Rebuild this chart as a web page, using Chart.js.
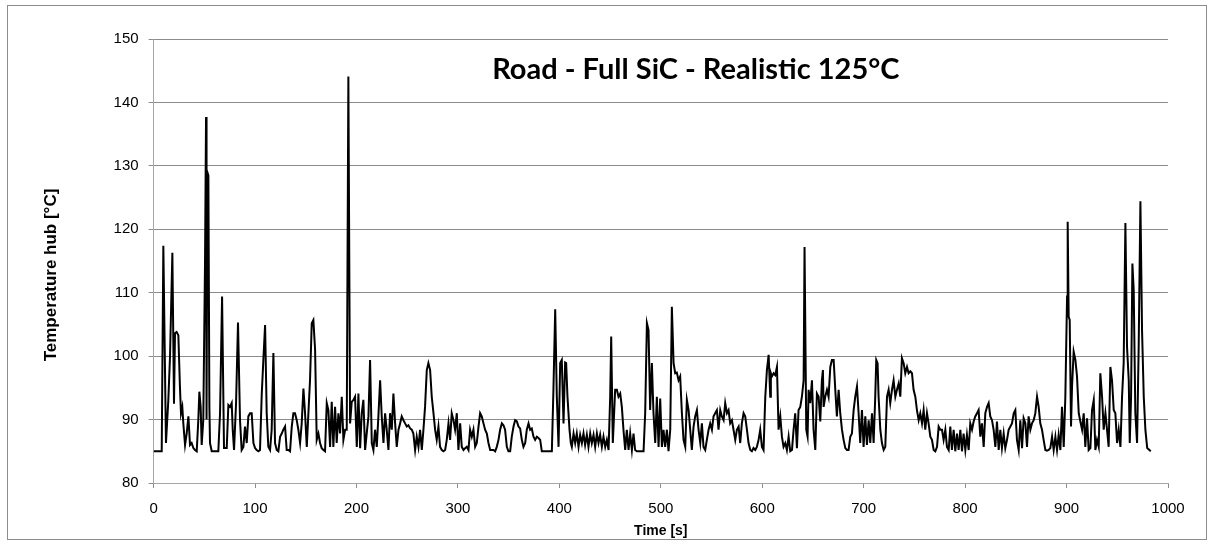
<!DOCTYPE html>
<html>
<head>
<meta charset="utf-8">
<title>Road - Full SiC - Realistic 125°C</title>
<script src="https://cdn.jsdelivr.net/npm/chart.js@4/dist/chart.umd.min.js"></script>
<style>
  html, body { margin: 0; padding: 0; background: #fff; }
  #wrap { position: relative; width: 1213px; height: 545px; }
</style>
</head>
<body>
<div id="wrap"><canvas id="chart" width="1213" height="545"></canvas></div>
<script>
const chartTitle = 'Road - Full SiC - Realistic 125°C';
const xTitle = 'Time [s]';
const yTitle = 'Temperature hub [°C]';

const xTicks = [0, 100, 200, 300, 400, 500, 600, 700, 800, 900, 1000];
const yTicks = [80, 90, 100, 110, 120, 130, 140, 150];

// time [s]
const times = [
  0, 8, 9.6, 12.2, 14.5, 16.2, 18.5, 20.1, 21.1, 22.7, 24.4, 26, 27, 28.3, 29.3, 31, 32.6, 34.3, 35.9, 37.5,
  39.2, 40.8, 42.5, 44.1, 45.1, 46.4, 47.4, 49, 50.7, 51.7, 52.2, 53, 54, 55, 55.6, 57.3, 63.8, 65.5, 67.5, 69.4,
  72.1, 73.7, 75.3, 77, 78, 79.3, 81.3, 83.2, 85.2, 86.8, 88.5, 90.1, 91.8, 93.4, 95.1, 96.7, 98.4, 100, 101.6, 103.3,
  104.9, 106.6, 108.2, 109.9, 111.5, 113.1, 114.8, 116.4, 118.1, 119.7, 121.4, 123, 124.7, 126.3, 127.9, 129.6, 131.2, 132.9, 134.5, 136.2,
  137.8, 139.4, 141.1, 142.7, 144.4, 146, 147.7, 149.3, 151, 152.6, 154.2, 155.9, 157.5, 159.2, 160.8, 162.5, 164.1, 165.7, 167.4, 169,
  170.7, 172.3, 174, 175.6, 177.2, 178.9, 180.5, 182.2, 183.8, 185.5, 187.1, 188.8, 190.4, 192, 193.7, 195.3, 197, 198.6, 200.3, 201.9,
  203.6, 205.2, 206.8, 208.5, 210.1, 211.8, 213.4, 215.1, 216.7, 218.3, 220, 221.6, 223.3, 224.9, 226.6, 228.2, 229.8, 231.5, 233.1, 234.8,
  236.4, 238.1, 239.7, 241.4, 243, 244.6, 246.3, 247.9, 249.6, 251.2, 252.9, 254.5, 256.1, 257.8, 259.4, 261.1, 262.7, 264.4, 266, 267.6,
  269.3, 270.9, 272.6, 274.2, 275.9, 277.5, 279.1, 280.8, 282.4, 284.1, 285.7, 287.4, 289, 290.7, 292.3, 293.9, 295.6, 297.2, 298.9, 300.5,
  302.2, 303.8, 305.5, 307.1, 308.7, 310.4, 312, 313.7, 315.3, 317, 318.6, 320.3, 321.9, 323.5, 325.2, 326.8, 328.5, 330.1, 331.8, 333.4,
  335, 336.7, 338.3, 340, 341.6, 343.3, 344.9, 346.5, 348.2, 349.8, 351.5, 353.1, 354.8, 356.4, 358.1, 359.7, 361.3, 363, 364.6, 366.3,
  367.9, 369.6, 371.2, 372.8, 374.5, 376.1, 377.8, 379.4, 381.1, 382.7, 390.9, 392.6, 394.2, 395.9, 397.5, 399.2, 400.8, 402.4, 404.1, 405.7,
  406.7, 408, 410, 411.3, 412.3, 414, 415.6, 417.2, 418.9, 420.5, 422.2, 423.8, 425.4, 427.1, 428.7, 430.4, 432, 433.7, 435.3, 437,
  438.6, 440.2, 441.9, 443.5, 445.2, 446.8, 448.5, 450.1, 451.1, 452.7, 455, 456.7, 458.3, 460, 461.6, 463.2, 464.9, 466.5, 468.2, 469.8,
  471.5, 473.1, 474.7, 476.4, 483, 484.6, 486.3, 487.9, 489.5, 491.2, 492.8, 494.5, 496.1, 497.8, 499.4, 501.1, 502.7, 504.3, 506, 507.6,
  509.3, 510.9, 512.6, 514.2, 515.8, 517.5, 519.1, 520.8, 522.4, 524.1, 525.7, 527.4, 529, 530.6, 532.3, 533.9, 535.6, 537.2, 538.9, 540.5,
  542.1, 543.8, 545.4, 547.1, 548.7, 550.4, 552, 553.6, 555.3, 556.9, 558.6, 560.2, 561.9, 563.5, 565.2, 566.8, 568.4, 570.1, 571.7, 573.4,
  575, 576.7, 578.3, 579.9, 581.6, 583.2, 584.9, 586.5, 588.2, 589.8, 591.4, 593.1, 594.7, 596.4, 598, 599.7, 601.3, 603, 604.6, 606.3,
  607.9, 608.5, 609.5, 611.2, 612.8, 614.5, 616.1, 617.8, 619.4, 621, 622.7, 624.3, 626, 627.6, 629.3, 630.9, 632.5, 634.2, 635.8, 637.5,
  639.1, 640.8, 641.7, 643.4, 644.7, 645.7, 647.3, 649, 650.6, 652.3, 653.9, 655.6, 657.2, 658.8, 659.8, 660.5, 662.1, 663.8, 665.4, 667.1,
  668.7, 670.4, 672, 673.6, 675.3, 676.9, 678.6, 680.2, 681.9, 683.5, 685.1, 686.8, 688.4, 690.1, 691.7, 693.4, 695, 696.6, 698.3, 699.9,
  701.6, 703.2, 704.9, 706.5, 708.2, 709.8, 711.4, 712.4, 713.7, 714.7, 716.4, 718, 719.7, 721.3, 723, 724.6, 726.2, 727.9, 729.5, 731.2,
  732.8, 734.5, 736.1, 737.7, 739.4, 741, 742.7, 744.3, 746, 747.6, 749.2, 750.9, 752.5, 754.2, 755.8, 757.5, 759.1, 760.7, 762.4, 764,
  765.7, 767.3, 769, 770.6, 772.3, 773.9, 775.5, 777.2, 778.8, 780.5, 782.1, 783.8, 785.4, 787, 788.7, 790.3, 792, 793.6, 795.3, 796.9,
  798.5, 800.2, 801.8, 803.5, 805.1, 806.8, 808.4, 810, 811.7, 813.3, 815, 816.6, 818.3, 819.9, 821.6, 823.2, 824.8, 826.5, 828.1, 829.8,
  831.4, 833.1, 834.7, 836.3, 838, 839.6, 841.3, 842.9, 844.6, 846.2, 847.9, 849.5, 851.1, 852.8, 854.4, 856.1, 857.7, 859.4, 861, 862.6,
  864.3, 865.9, 867.6, 869.2, 870.9, 872.5, 874.1, 875.8, 877.4, 879.1, 880.7, 882.4, 884, 885.7, 887.3, 889, 890.6, 892.2, 893.9, 895.5,
  897.2, 898.8, 900.5, 901.1, 902.1, 903.1, 904.4, 905.4, 907, 908.7, 910.3, 912, 913.6, 915.3, 916.9, 918.5, 920.2, 921.8, 923.5, 925.1,
  926.8, 928.4, 930, 931.7, 933.3, 935, 936.6, 938.3, 939.9, 941.5, 943.2, 944.8, 946.5, 948.1, 949.8, 951.4, 953.1, 954.7, 956.3, 958,
  959.6, 961.3, 962.3, 963.6, 964.9, 966.2, 967.8, 969.5, 971.1, 972.8, 974.4, 976.1, 977.7, 979.5, 983
];

// temperature hub [°C], same order as times
const temps = [
  85, 85, 117.4, 86.3, 93, 100, 116.3, 92.5, 103.6, 103.8, 103.3, 95, 91, 92, 89.4, 86, 87.8, 90.5, 86, 86.3,
  85.5, 85.2, 85, 90, 94.4, 92, 86, 90, 115, 137.7, 90, 129, 128.5, 92, 86.3, 85, 85, 91, 109.4, 85.5,
  85.5, 92.3, 92, 92.6, 88.4, 85.2, 92.6, 105.3, 89.9, 85.2, 85.7, 88.9, 86.3, 90.5, 91, 91, 86.3, 85.5, 85.2, 85,
  85.2, 94, 99.4, 104.9, 91, 85.7, 85.2, 88.4, 100.5, 86.3, 85.2, 85, 87.3, 87.8, 88.4, 88.9, 85.2, 85.2, 85, 88.9,
  91, 91, 89.9, 88.4, 86.3, 89.4, 94.9, 91, 85.7, 91, 96.2, 105.2, 105.7, 101, 86.8, 87.8, 86.3, 85.5, 85.2, 85,
  92.6, 91.5, 85.7, 92.8, 85.7, 92, 86.3, 91, 87.8, 93.6, 86.8, 88.4, 88.4, 144.1, 89.4, 92.8, 93.1, 93.6, 85.7, 94.1,
  85.5, 91, 93.1, 85.2, 87.8, 90.5, 99.4, 86.3, 85.2, 88.4, 85.7, 90.5, 96.2, 90.5, 86.3, 91, 88.4, 85.2, 91, 88.4,
  94.1, 89.4, 85.7, 88.4, 89.4, 90.5, 89.9, 89.4, 88.9, 89.1, 88.6, 88.4, 87.8, 85.2, 87.3, 85.7, 88.4, 85.2, 88.4, 92,
  97.8, 98.9, 97.8, 93.6, 91, 88.4, 86.8, 88.9, 85.7, 85.2, 85, 85.2, 86.8, 89.4, 86.8, 91, 89.9, 88.4, 91, 85.2,
  89.4, 85.7, 85.2, 85.5, 85.7, 85.2, 88.4, 87.3, 88.4, 85.7, 86.3, 88.9, 91, 90.5, 89.4, 88.4, 87.8, 86.3, 85.2, 85.2,
  85.2, 85, 85.7, 86.8, 88.4, 89.4, 89.1, 88.4, 85.7, 85, 85, 87.3, 88.9, 89.9, 89.7, 88.9, 88.6, 86.8, 85.7, 86.3,
  88.4, 89.4, 88.4, 88.6, 87.3, 86.8, 87.3, 87.1, 86.8, 85, 85, 85, 95, 107.4, 93.6, 85.7, 98.9, 99.4, 89.4, 99,
  98.9, 93.6, 88.4, 86.3, 85.7, 87.8, 86.3, 87.8, 85.7, 87.6, 86.3, 87.8, 86, 87.6, 85.7, 87.8, 86.3, 87.6, 85.7, 87.8,
  86.3, 87.6, 85.7, 87.3, 85.7, 86.8, 85.2, 93.6, 103.1, 86.3, 94.7, 94.7, 93.6, 94.1, 92, 88.4, 85.2, 88.4, 85.2, 87.8,
  85.2, 87.8, 85.2, 85, 85, 91, 105.2, 104.1, 91.5, 98.9, 91, 86.3, 93.6, 85.7, 93.3, 85.7, 88.4, 85.7, 88.4, 85,
  88.4, 107.8, 98.9, 97.3, 97.4, 96.2, 96.8, 91, 86.8, 85.7, 93.1, 91.5, 88.4, 85.2, 88.9, 90.5, 91.5, 88.4, 86.3, 89.4,
  85.7, 85.2, 86.8, 88.4, 89.4, 88.4, 90.5, 91, 91.5, 88.4, 91.5, 90.5, 89.9, 92.6, 91, 91.5, 89.4, 89.9, 88.4, 86.8,
  88.4, 88.9, 86.3, 89.4, 91, 90.5, 88.4, 86.3, 85.2, 85, 85.5, 85.2, 85.7, 86.8, 88.4, 85.7, 85.2, 93.6, 97.8, 100.2,
  93.6, 97.3, 96.8, 97.3, 97, 98.3, 88.4, 90.5, 87.3, 85.7, 86.3, 85.2, 87.3, 85, 85.2, 88.4, 91, 85.5, 91.5, 92,
  93.6, 96.2, 117.2, 88.4, 87.3, 94.7, 92.6, 96.2, 88.4, 85.2, 94.1, 93.6, 89.7, 96.2, 97.8, 92, 93.6, 94.7, 93.6, 98.3,
  99.4, 99.4, 94.7, 90.5, 94.7, 91, 88.4, 86.8, 85.5, 85.2, 85.2, 87.3, 87.8, 91.5, 93.6, 95.2, 91, 86.3, 91.5, 85.7,
  90.5, 86, 89.9, 86.3, 91, 86.3, 93.6, 99.4, 98.9, 93.6, 88.4, 86.3, 85.2, 85.7, 93.6, 94.7, 92.6, 94.7, 96.2, 93.6,
  94.7, 95.7, 93.6, 99.7, 98.9, 97.3, 98.3, 97.3, 97.6, 97.3, 94.7, 93.6, 91.5, 89.9, 91, 89.4, 91.5, 88.4, 91, 89.4,
  87.3, 86.8, 85.2, 85, 85.7, 88.9, 88.4, 88.4, 86.8, 88.4, 85.7, 85.2, 88.9, 85.2, 88.4, 85, 87.8, 85.2, 88.4, 85,
  87.8, 85.2, 87.6, 85.2, 89.4, 88.4, 89.7, 90.5, 91, 91.5, 87.3, 89.4, 85.7, 91, 92, 92.6, 90.5, 89.9, 88.4, 85.7,
  89.7, 85.2, 88.4, 85.5, 87.8, 85.5, 86.8, 88.4, 88.9, 89.4, 91, 91.5, 86.8, 85.2, 89.9, 85.5, 90.2, 89.4, 85.7, 90.5,
  88.4, 89.4, 89.9, 91, 93.6, 92, 89.4, 88.4, 86.8, 85.2, 85.1, 85.2, 85.5, 87.3, 85.2, 87.3, 85.2, 87.6, 85.2, 92,
  85.7, 93.6, 109.4, 121.2, 106.2, 105.7, 88.9, 95.2, 100.7, 99.4, 96.8, 91, 89.7, 88.4, 91, 85.7, 90.2, 85.2, 85.5, 91.5,
  93.1, 85.2, 86.8, 85.7, 97.3, 93.6, 88.4, 91, 88.4, 85.7, 98.3, 96.2, 91.5, 91, 86.3, 88.4, 85.7, 93.6, 98.9, 121,
  101.5, 96.2, 86.3, 93.6, 114.6, 110.4, 91, 86.3, 101.5, 124.4, 104.1, 93.6, 88.4, 85.5, 85
];

document.addEventListener('DOMContentLoaded', () => {

    const points = times.map((t, i) => ({ x: t, y: temps[i] }));

    const gridColor = '#8c8c8c';
    const axisColor = '#a6a6a6';
    const tickFont = { family: 'Liberation Sans, Arial, sans-serif', size: 15 };
    const titleFont = { family: 'Liberation Sans, Arial, sans-serif', size: 14, weight: 'bold' };

    // outer frame of the chart
    const framePlugin = {
        id: 'frame',
        beforeDraw(chart) {
            const ctx = chart.ctx;
            ctx.save();
            ctx.fillStyle = '#ffffff';
            ctx.fillRect(0, 0, chart.width, chart.height);
            ctx.strokeStyle = '#8c8c8c';
            ctx.lineWidth = 1;
            ctx.strokeRect(7.5, 5.5, 1199, 534);
            ctx.restore();
        }
    };

    // chart title inside the plot area, y title on the left
    const textPlugin = {
        id: 'texts',
        afterDatasetsDraw(chart) {
            const ctx = chart.ctx;
            const area = chart.chartArea;
            ctx.save();
            ctx.fillStyle = '#000000';
            ctx.textAlign = 'center';
            ctx.textBaseline = 'middle';
            ctx.font = 'bold 29px Lato, "Open Sans", sans-serif';
            ctx.fillText(chartTitle, (area.left + area.right) / 2 + 35, area.top + 31);

            ctx.translate(51, (area.top + area.bottom) / 2 + 14);
            ctx.rotate(-Math.PI / 2);
            ctx.font = 'bold 17px "Liberation Sans", Arial, sans-serif';
            ctx.fillText(yTitle, 0, 0);
            ctx.restore();
        }
    };

    new Chart(document.querySelector('#chart'), {
        type: 'line',
        data: {
            datasets: [{
                label: yTitle,
                data: points,
                borderColor: '#000000',
                borderWidth: 2,
                pointRadius: 0,
                tension: 0,
                fill: false
            }]
        },
        options: {
            responsive: false,
            animation: false,
            events: [],
            layout: { padding: { left: 0, right: 45, top: 39, bottom: 0 } },
            plugins: {
                legend: { display: false },
                title: { display: false },
                tooltip: { enabled: false }
            },
            scales: {
                x: {
                    type: 'linear',
                    min: 0,
                    max: 1000,
                    afterBuildTicks: (scale) => { scale.ticks = xTicks.map(v => ({ value: v })); },
                    afterFit: (scale) => { scale.height = 62; },
                    border: { display: true, color: axisColor, width: 1 },
                    grid: { drawOnChartArea: false, drawTicks: true, tickLength: 5, color: gridColor },
                    ticks: { color: '#000000', font: tickFont, padding: 12, maxRotation: 0, callback: (v) => String(v) },
                    title: { display: true, text: xTitle, color: '#000000', font: titleFont, padding: { top: 0, bottom: 5 } }
                },
                y: {
                    min: 80,
                    max: 150,
                    afterBuildTicks: (scale) => { scale.ticks = yTicks.map(v => ({ value: v })); },
                    afterFit: (scale) => { scale.width = 153.6; },
                    border: { display: true, color: axisColor, width: 1 },
                    grid: { drawOnChartArea: true, drawTicks: true, tickLength: 5, color: gridColor },
                    ticks: { color: '#000000', font: tickFont, padding: 10, callback: (v) => String(v) },
                    title: { display: false, text: yTitle }
                }
            }
        },
        plugins: [framePlugin, textPlugin]
    });
});
</script>
</body>
</html>
